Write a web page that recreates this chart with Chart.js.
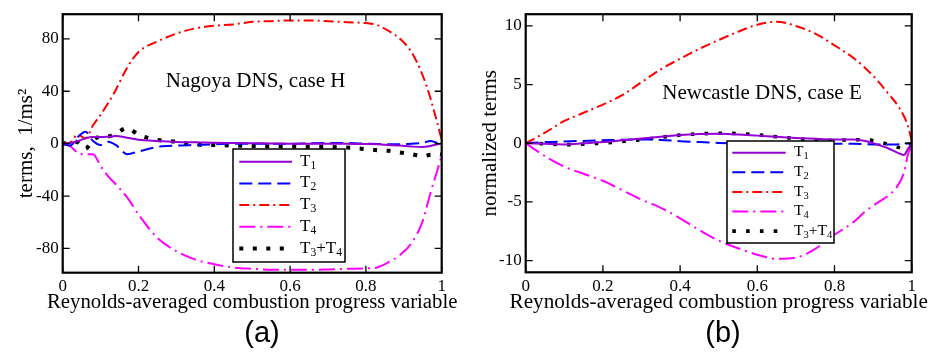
<!DOCTYPE html>
<html>
<head>
<meta charset="utf-8">
<script src="https://cdn.jsdelivr.net/npm/chart.js@4.4.1/dist/chart.umd.min.js"></script>
<style>
  body { margin: 0; background: #fff; width: 932px; height: 355px; position: relative; overflow: hidden; }
  canvas { position: absolute; top: 0; }
  #chartA { left: 0; }
  #chartB { left: 466px; }
  .tag { position: absolute; top: 316px; width: 60px; text-align: center; line-height: 36px;
         font: 29px "Liberation Sans", Arial, sans-serif; color: #000; }
</style>
</head>
<body>
<canvas id="chartA" width="466" height="320"></canvas>
<canvas id="chartB" width="466" height="320"></canvas>
<div class="tag" style="left:232px">(a)</div>
<div class="tag" style="left:693px">(b)</div>
<script>
// ---- data, panel (a): Nagoya DNS, case H ----
const xA = [0, 0.02, 0.04, 0.06, 0.08, 0.1, 0.12, 0.14, 0.17, 0.2, 0.25, 0.3, 0.35, 0.4, 0.45,
            0.5, 0.55, 0.6, 0.65, 0.7, 0.75, 0.8, 0.83, 0.86, 0.89, 0.92, 0.95, 0.97, 0.99, 1];
const t1A = [0, 0.5, 2, 4, 5, 5, 5.3, 5.8, 4.5, 3, 2, 1.3, 1, 0.7, 0.5,
             0.3, 0.2, 0, 0, 0, 0, -0.3, -0.5, -1, -1.5, -2.2, -2.6, -1.8, -0.5, 0];
const t2A = [0, -1.5, 5, 9, 2, -1, 1.5, -1, -8, -6, -2.5, -1.5, -1, -0.5, 0,
             0, 0, 0, 0.3, 0.5, 0.5, 0, -0.3, -0.5, -0.5, 0, 0.5, 2, 0.5, 0];
const t3A = [0, 1, 7, 4, 14, 22, 31, 41, 58, 70, 78, 84, 88, 90, 91,
             93, 93.5, 94, 94, 93.5, 92.7, 92, 90.5, 86, 80, 70, 52, 35, 14, 3];
const t4A = [0, -2, -7, -8, -8, -17, -25, -31, -41, -54, -72, -82, -88.5, -92, -94.5,
             -95.5, -96.2, -96.3, -96.3, -96, -95.5, -95.2, -94.5, -90.5, -85, -76, -59, -38, -19, -9];
const t34A = [-0.5, 2, 1, -4, 3, 5.2, 5.5, 7.7, 11.9, 6.8, 2.8, 1.5, -0.7, -1, -1.5,
              -1.8, -2, -2.2, -2.4, -2.5, -3, -4.2, -5, -5.5, -6.8, -8, -9.5, -8.5, -8, -8.3];
const yTicksA = [-80, -40, 0, 40, 80];

// ---- data, panel (b): Newcastle DNS, case E ----
const xB = [0, 0.05, 0.1, 0.15, 0.2, 0.25, 0.3, 0.35, 0.4, 0.45, 0.5, 0.55, 0.6, 0.65,
            0.7, 0.75, 0.8, 0.85, 0.88, 0.91, 0.94, 0.96, 0.98, 0.99, 1];
const t1B = [0, -0.05, -0.1, 0, 0.1, 0.25, 0.4, 0.55, 0.7, 0.78, 0.8, 0.75, 0.65, 0.55,
             0.45, 0.38, 0.33, 0.32, 0.2, -0.1, -0.45, -0.75, -1.0, -0.5, 0];
const t2B = [0, 0.1, 0.15, 0.2, 0.25, 0.3, 0.33, 0.28, 0.18, 0.1, 0.03, -0.03, -0.08, -0.1,
             -0.1, -0.08, -0.05, -0.05, -0.08, -0.1, -0.1, -0.1, -0.05, -0.02, 0];
const t3B = [0, 0.9, 1.9, 2.6, 3.3, 4.1, 5.2, 6.3, 7.2, 8.05, 8.8, 9.5, 10.1, 10.36,
             10.0, 9.35, 8.35, 7.25, 6.4, 5.4, 4.2, 3.4, 2.3, 1.5, 0.2];
const t4B = [0, -1.1, -2.0, -2.6, -3.2, -4.0, -4.8, -5.5, -6.4, -7.4, -8.3, -8.95, -9.5, -9.85,
             -9.75, -9.0, -7.8, -6.7, -5.8, -5.1, -4.45, -3.8, -2.5, -1.0, 0];
const t34B = [0, -0.05, -0.12, -0.08, 0.02, 0.15, 0.3, 0.5, 0.7, 0.8, 0.85, 0.83, 0.72, 0.55,
              0.4, 0.28, 0.25, 0.3, 0.3, 0.15, -0.1, -0.3, -0.45, -0.2, 0];
const yTicksB = [-10, -5, 0, 5, 10];

const xTicks = [0, 0.2, 0.4, 0.6, 0.8, 1];
const labels = ["T_1", "T_2", "T_3", "T_4", "T_3+T_4"];
const xTitle = "Reynolds-averaged combustion progress variable";

const SERIF = '"Liberation Serif", "DejaVu Serif", serif';
const colors = ["#9400d3", "#0000ff", "#ff0000", "#ff00ff", "#000000"];

// draw "T_1" style text with subscripts
function drawSubText(ctx, text, x, y, size) {
  const parts = text.split(/_(\d)/);
  parts.forEach((p, i) => {
    if (!p) return;
    const sub = i % 2 === 1;
    ctx.font = (sub ? size * 0.68 : size) + "px " + SERIF;
    ctx.fillText(p, x, sub ? y + 3 : y);
    x += ctx.measureText(p).width;
  });
}

const framePlugin = {
  id: "frame",
  afterDatasetsDraw(chart, args, o) {
    const { ctx, chartArea: a, scales: { x, y } } = chart;
    ctx.save();
    ctx.strokeStyle = "#000";
    ctx.fillStyle = "#000";
    ctx.lineWidth = 1.3;
    ctx.beginPath();
    x.ticks.forEach(t => {
      const px = x.getPixelForValue(t.value);
      ctx.moveTo(px, a.bottom); ctx.lineTo(px, a.bottom - 7);
      ctx.moveTo(px, a.top); ctx.lineTo(px, a.top + 7);
    });
    y.ticks.forEach(t => {
      const py = y.getPixelForValue(t.value);
      ctx.moveTo(a.left, py); ctx.lineTo(a.left + 7, py);
      ctx.moveTo(a.right, py); ctx.lineTo(a.right - 7, py);
    });
    ctx.stroke();
    ctx.lineWidth = 2.2;
    ctx.strokeRect(a.left, a.top, a.right - a.left, a.bottom - a.top);

    // x axis title (drawn here so it is not squeezed to the axis width)
    ctx.font = o.xTitleSize + "px " + SERIF;
    ctx.textAlign = "center";
    ctx.textBaseline = "alphabetic";
    ctx.fillText(xTitle, (a.left + a.right) / 2, a.bottom + 35.5);

    // case note
    ctx.textAlign = "left";
    ctx.font = "21px " + SERIF;
    ctx.fillText(o.note, a.left + o.noteX * (a.right - a.left), a.top + o.noteY * (a.bottom - a.top));

    // legend box
    const L = o.legend;
    ctx.fillStyle = "#fff";
    ctx.fillRect(L.x, L.y, L.w, L.h);
    ctx.lineWidth = 1.5;
    ctx.strokeRect(L.x, L.y, L.w, L.h);
    chart.data.datasets.forEach((ds, i) => {
      const ry = L.row0 + i * L.step;
      ctx.save();
      ctx.strokeStyle = ds.borderColor;
      ctx.lineWidth = ds.borderWidth;
      ctx.setLineDash(ds.borderDash || []);
      ctx.beginPath();
      ctx.moveTo(L.s0, ry); ctx.lineTo(L.s1, ry);
      ctx.stroke();
      ctx.restore();
      ctx.fillStyle = "#000";
      drawSubText(ctx, ds.label, L.tx, ry + L.font * 0.24, L.font);
    });
    ctx.restore();
  }
};

function buildChart(id, xs, series, o) {
  const styles = [
    { width: 2, dash: [] },
    { width: 2, dash: [13, 6] },
    { width: 2, dash: [10, 4, 2, 4] },
    { width: 2, dash: [16, 5, 2, 5] },
    { width: o.dot, dash: [o.dot, o.gap] }
  ];
  return new Chart(document.getElementById(id), {
    type: "line",
    data: {
      datasets: series.map((vals, i) => ({
        label: labels[i],
        data: xs.map((x, k) => ({ x: x, y: vals[k] })),
        borderColor: colors[i],
        borderWidth: styles[i].width,
        borderDash: styles[i].dash,
        borderCapStyle: "butt",
        pointRadius: 0,
        cubicInterpolationMode: "monotone",
        fill: false
      }))
    },
    options: {
      responsive: false,
      animation: false,
      devicePixelRatio: 1,
      events: [],
      layout: { padding: o.padding },
      plugins: { legend: { display: false }, tooltip: { enabled: false }, frame: o.frame },
      scales: {
        x: {
          type: "linear", min: 0, max: 1,
          grid: { display: false, drawTicks: false }, border: { display: false },
          afterBuildTicks: s => { s.ticks = xTicks.map(v => ({ value: v })); },
          afterFit: s => { s.height = 45; },
          ticks: { color: "#000", font: { family: SERIF, size: 17 }, padding: 4,
                   maxRotation: 0, autoSkip: false, callback: v => String(v) },
          title: { display: false }
        },
        y: {
          type: "linear", min: o.yMin, max: o.yMax,
          grid: { display: false, drawTicks: false }, border: { display: false },
          afterBuildTicks: s => { s.ticks = o.yTicks.map(v => ({ value: v })); },
          afterFit: s => { s.width = o.yWidth; },
          ticks: { color: "#000", font: { family: SERIF, size: 17 }, padding: 4,
                   autoSkip: false, callback: v => String(v) },
          title: { display: true, text: o.yTitle, color: "#000",
                   font: { family: SERIF, size: 21 }, padding: { top: o.yTitlePad, bottom: 0 } }
        }
      }
    },
    plugins: [framePlugin]
  });
}

buildChart("chartA", xA, [t1A, t2A, t3A, t4A, t34A], {
  yMin: -98.5, yMax: 98.8, yTicks: yTicksA, yTitle: "terms,  1/ms²",
  yWidth: 62.7, yTitlePad: 14,
  padding: { left: 0, right: 24.3, top: 8.5, bottom: 2.3 },
  dot: 4, gap: 9.5,
  frame: {
    xTitleSize: 20.8,
    note: "Nagoya DNS, case H", noteX: 0.272, noteY: 0.283,
    legend: { x: 233, y: 149, w: 112, h: 113, row0: 161.7, step: 21.7, s0: 239.3, s1: 292, tx: 300, font: 17 }
  }
});

buildChart("chartB", xB, [t1B, t2B, t3B, t4B, t34B], {
  yMin: -11, yMax: 11, yTicks: yTicksB, yTitle: "normalized terms",
  yWidth: 59.7, yTitlePad: 11.4,
  padding: { left: 0, right: 20.3, top: 2, bottom: 2.7 },
  dot: 3.6, gap: 10.2,
  frame: {
    xTitleSize: 21.2,
    note: "Newcastle DNS, case E", noteX: 0.354, noteY: 0.329,
    legend: { x: 261, y: 141, w: 107, h: 102, row0: 152.7, step: 19.6, s0: 266.3, s1: 319.7, tx: 328, font: 15.5 }
  }
});
</script>
</body>
</html>
